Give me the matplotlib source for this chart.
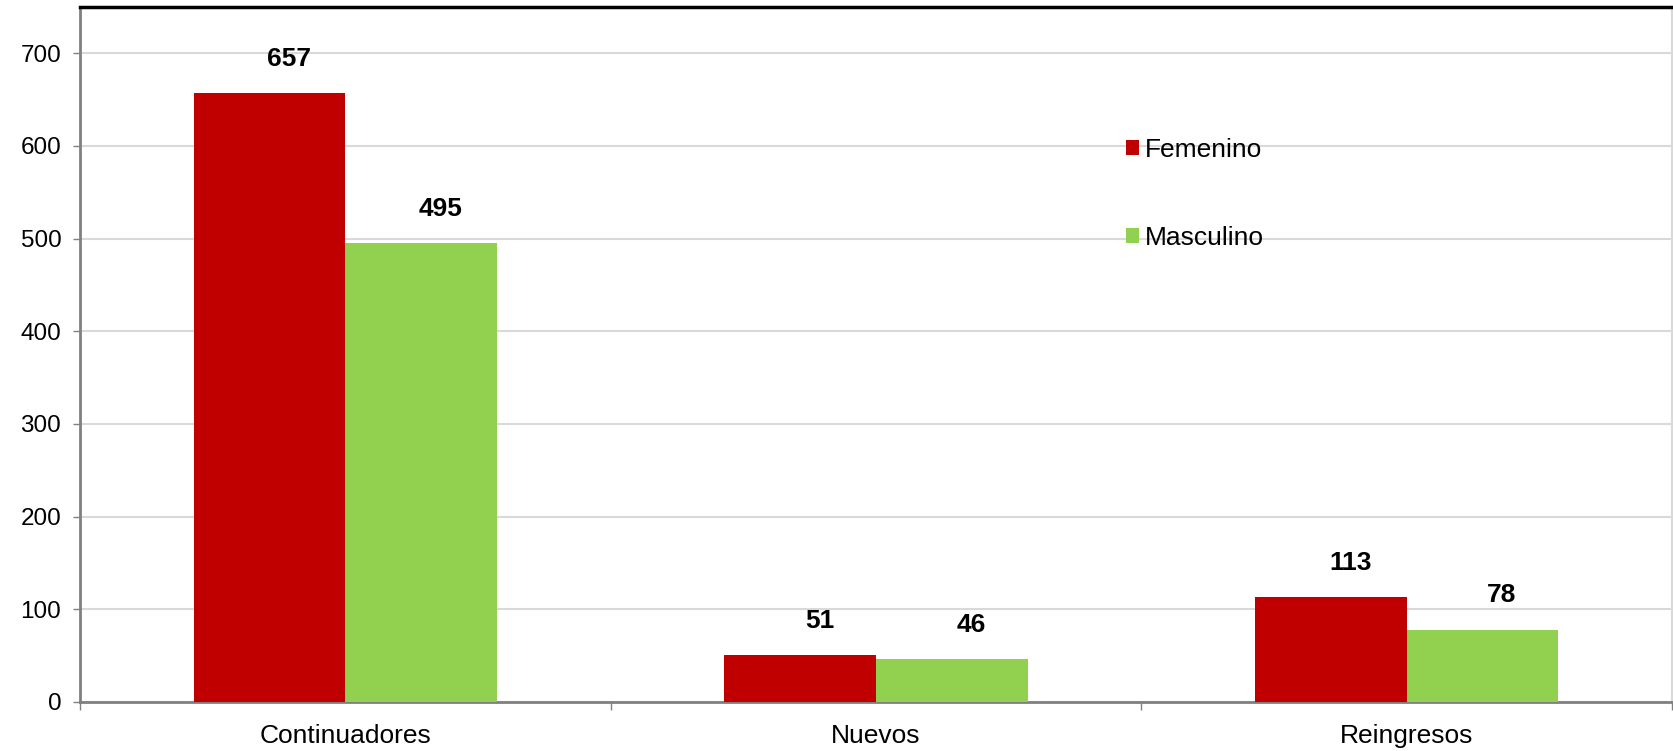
import numpy as np
import matplotlib.pyplot as plt

plt.rcParams['font.family'] = ['Liberation Sans', 'DejaVu Sans']

categories = ['Continuadores', 'Nuevos', 'Reingresos']
femenino = [657, 51, 113]
masculino = [495, 46, 78]

x = np.arange(len(categories))
w = 0.286

fig = plt.figure(figsize=(16.73, 7.51), dpi=100)
ax = fig.add_axes([80 / 1673, 1 - 702 / 751, 1592 / 1673, 695 / 751])

b1 = ax.bar(x - w / 2, femenino, w, color='#C00000', label='Femenino', zorder=3)
b2 = ax.bar(x + w / 2, masculino, w, color='#92D050', label='Masculino', zorder=3)

# value labels sit a little right of the bar centre, like the original
for xs, vals in [(x - w / 2, femenino), (x + w / 2, masculino)]:
    for xi, v in zip(xs, vals):
        ax.annotate(str(v), (xi, v), xytext=(14, 16), textcoords='offset points',
                    ha='center', va='bottom', fontsize=19, fontweight='bold')

ax.set_xlim(-0.5, 2.5)
ax.set_ylim(0, 750)
ax.set_yticks(range(0, 701, 100))
ax.yaxis.grid(True, color='#D9D9D9', linewidth=1.5, zorder=0)

# category labels centred, ticks at the boundaries
ax.set_xticks(x)
ax.set_xticklabels(categories, fontsize=19)
ax.tick_params(axis='x', length=0, pad=16)
ax.set_xticks(np.arange(-0.5, 3, 1), minor=True)
ax.tick_params(axis='x', which='minor', length=6, color='#808080', width=1)
ax.tick_params(axis='y', length=5, color='#808080', width=1, labelsize=17.5, pad=8.5)

ax.spines['top'].set_color('black')
ax.spines['top'].set_linewidth(2.5)
ax.spines['left'].set_color('#808080')
ax.spines['left'].set_linewidth(2)
ax.spines['bottom'].set_color('#808080')
ax.spines['bottom'].set_linewidth(2)
ax.spines['right'].set_color('#D9D9D9')
ax.spines['right'].set_linewidth(1.5)

ax.legend(loc='center left', bbox_to_anchor=(0.657, 0.731), frameon=False,
          fontsize=19, handlelength=0.5, handleheight=0.5, handletextpad=0.2,
          labelspacing=2.4, borderaxespad=0, borderpad=0)

fig.savefig('out.png', dpi=100)
